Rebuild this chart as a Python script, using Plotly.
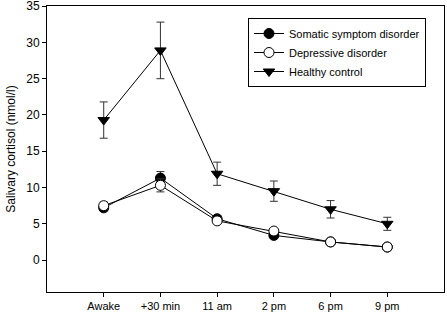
import plotly.graph_objects as go

times = ["Awake", "+30 min", "11 am", "2 pm", "6 pm", "9 pm"]
somatic = [7.2, 11.3, 5.7, 3.4, 2.5, 1.8]
somatic_err = [0.4, 0.9, 0.4, 0.3, 0.2, 0.2]
depressive = [7.5, 10.3, 5.4, 4.0, 2.5, 1.8]
depressive_err = [0.5, 0.9, 0.4, 0.3, 0.2, 0.2]
healthy = [19.3, 28.9, 11.9, 9.5, 7.0, 5.0]
healthy_err = [2.5, 3.9, 1.6, 1.4, 1.2, 0.9]
y_ticks = [0, 5, 10, 15, 20, 25, 30, 35]

xpos = list(range(len(times)))
font = "Liberation Sans, Arial, sans-serif"

fig = go.Figure()

def add(name, vals, errs, symbol, fill):
    fig.add_trace(go.Scatter(
        x=xpos, y=vals, name=name, mode="lines+markers",
        line=dict(color="black", width=1),
        marker=dict(symbol=symbol, size=10, color=fill, line=dict(color="black", width=1)),
        error_y=dict(type="data", array=errs, visible=True, color="#333333", thickness=1, width=4),
    ))

add("Somatic symptom disorder", somatic, somatic_err, "circle", "black")
add("Depressive disorder", depressive, depressive_err, "circle", "white")
add("Healthy control", healthy, healthy_err, "triangle-down", "black")

fig.update_layout(
    width=447, height=316,
    margin=dict(l=47, r=3, t=6, b=24),
    paper_bgcolor="white", plot_bgcolor="white",
    font=dict(family=font, size=12, color="black"),
    showlegend=True,
    legend=dict(x=(426 - 47) / 397, y=1 - 12 / 286, xanchor="right", yanchor="top",
                bordercolor="black", borderwidth=1, bgcolor="white",
                font=dict(size=11, family=font), tracegroupgap=0,
                itemwidth=30),
)
fig.update_xaxes(
    range=[-1, 6], tickmode="array", tickvals=xpos, ticktext=times,
    showline=True, linecolor="black", linewidth=1, mirror=True,
    ticks="outside", ticklen=4, tickcolor="black", showgrid=False, zeroline=False,
    tickfont=dict(size=11), automargin=False, ticklabeloverflow="allow",
)
fig.update_yaxes(
    range=[-4.4, 35.02], tickmode="array", tickvals=y_ticks,
    showline=True, linecolor="black", linewidth=1, mirror=True,
    ticks="outside", ticklen=4, tickcolor="black", showgrid=False, zeroline=False,
    title=dict(text="Salivary cortisol (nmol/l)", font=dict(size=12), standoff=8),
    tickfont=dict(size=12), automargin=False, ticklabeloverflow="allow",
)

fig.write_html("out.html", config={"displayModeBar": False},
               post_script="document.body.style.margin='0';")
